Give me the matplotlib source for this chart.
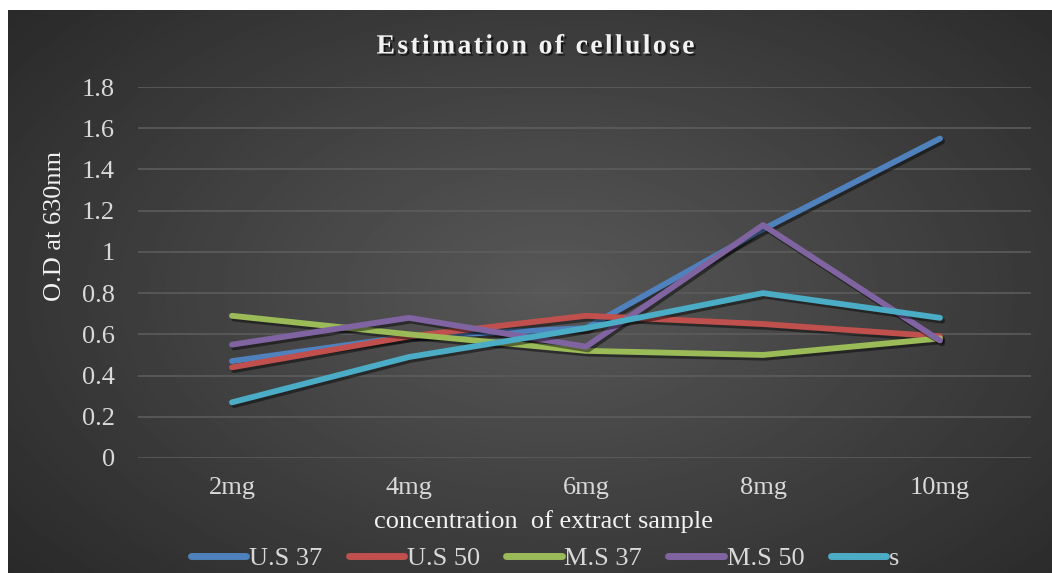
import numpy as np
import matplotlib
matplotlib.use("Agg")
import matplotlib.pyplot as plt
import matplotlib.patheffects as pe

# data
conc = ["2mg", "4mg", "6mg", "8mg", "10mg"]
us37 = [0.47, 0.59, 0.63, 1.11, 1.55]
us50 = [0.44, 0.59, 0.69, 0.65, 0.59]
ms37 = [0.69, 0.60, 0.52, 0.50, 0.58]
ms50 = [0.55, 0.68, 0.54, 1.13, 0.57]
s = [0.27, 0.49, 0.63, 0.80, 0.68]

names = ["U.S 37", "U.S 50", "M.S 37", "M.S 50", "s"]
colors = ["#4F81BD", "#C0504D", "#9BBB59", "#8064A2", "#4BACC6"]

plt.rcParams["font.family"] = ["Liberation Serif", "DejaVu Serif"]

W, H = 1052, 573
fig = plt.figure(figsize=(W / 100, H / 100), dpi=100, facecolor="white")

# dark radial background of the chart area
bg = fig.add_axes([8 / W, 0, (W - 8) / W, (H - 10) / H])
yy, xx = np.mgrid[0:1:300j, 0:1:500j]
d = np.sqrt(((xx - 0.52) / 0.75) ** 2 + ((yy - 0.5) / 0.85) ** 2)
d = np.clip(d, 0, 1)
shade = 0.345 - 0.2 * d
bg.imshow(shade, cmap="gray", vmin=0, vmax=1, aspect="auto", extent=[0, 1, 0, 1])
bg.set_axis_off()

ax = fig.add_axes([138 / W, (H - 458) / H, (1031 - 138) / W, (458 - 87) / H])
ax.patch.set_alpha(0)
x = np.arange(len(conc))
for vals, name, c in zip([us37, us50, ms37, ms50, s], names, colors):
    ax.plot(x, vals, color=c, lw=4.2, label=name, solid_capstyle="round",
            solid_joinstyle="round",
            path_effects=[pe.SimpleLineShadow(offset=(1.5, -2), shadow_color="black", alpha=0.45),
                          pe.Normal()])

ax.set_xlim(-0.531, 4.514)
ax.set_ylim(0, 1.8)
ax.set_yticks(np.arange(0, 1.81, 0.2))
ax.set_yticklabels(["0", "0.2", "0.4", "0.6", "0.8", "1", "1.2", "1.4", "1.6", "1.8"])
ax.set_xticks(x)
ax.set_xticklabels(conc)
ax.grid(axis="y", color="#5c5c5c", lw=1.2)
ax.set_axisbelow(True)
for sp in ax.spines.values():
    sp.set_visible(False)
ax.tick_params(axis="both", length=0, labelsize=19, colors="#d9d9d9")
ax.tick_params(axis="y", pad=16.5)
ax.tick_params(axis="x", pad=14)

# title is letter-spaced in the original, so put hair spaces between letters
title = "\u200a".join("Estimation of cellulose")
shadow = [pe.withSimplePatchShadow(offset=(1.5, -1.5), shadow_rgbFace="black", alpha=0.6)]
fig.text(536 / W, 1 - 47 / H, title, ha="center", va="center",
         fontsize=20, fontweight="bold", color="#f2f2f2", path_effects=shadow)
fig.text(55 / W, 1 - 226 / H, "O.D at 630nm", rotation=90, ha="center", va="center",
         fontsize=19, color="#f2f2f2")
fig.text(543 / W, 1 - 522 / H, "concentration  of extract sample", ha="center", va="center",
         fontsize=19, color="#f2f2f2")

leg = fig.legend(loc="center", bbox_to_anchor=(545 / W, 1 - 558 / H), ncol=5, frameon=False,
                 fontsize=19, labelcolor="#d9d9d9", handlelength=2.1, handletextpad=0.1,
                 columnspacing=1.0)
for h in leg.legend_handles:
    h.set_linewidth(5)
    h.set_solid_capstyle("round")
    h.set_path_effects([])

fig.savefig("out.png", dpi=100, facecolor="white")
